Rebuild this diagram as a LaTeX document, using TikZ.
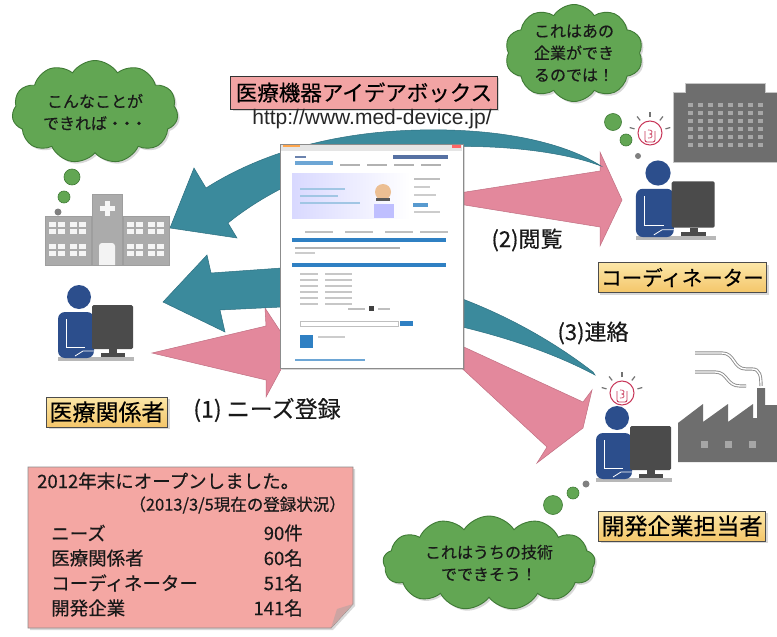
\documentclass[tikz,border=0pt]{standalone}
\usepackage{fontspec}
\setmainfont{Noto Sans CJK JP}[FakeBold=0.4]
\newfontfamily\urlfont{Liberation Sans}
\usetikzlibrary{shapes.symbols,shadows}

\definecolor{tealA}{HTML}{3B8A9C}
\definecolor{tealB}{HTML}{2D6F80}
\definecolor{pinkA}{HTML}{E3889C}
\definecolor{pinkB}{HTML}{C06F82}
\definecolor{cloudG}{HTML}{62A653}
\definecolor{cloudD}{HTML}{3F7A35}
\definecolor{navy}{HTML}{2C4E8C}
\definecolor{screen}{HTML}{4B4B4B}
\definecolor{labelTop}{HTML}{FCE7A8}
\definecolor{labelBot}{HTML}{F4C66A}
\definecolor{titleP}{HTML}{F2A4A4}
\definecolor{noteP}{HTML}{F4A7A3}
\definecolor{bldg}{HTML}{6E6E6E}
\definecolor{hosp}{HTML}{ABABAB}
\definecolor{bulbR}{HTML}{C8385A}
\definecolor{webB}{HTML}{2F80C3}

\tikzset{
  softshadow/.style={drop shadow={opacity=0.3,shadow xshift=2pt,shadow yshift=-2pt}},
  thought/.style={cloud, cloud puffs=#1, cloud puff arc=115, cloud ignores aspect,
    fill=cloudG, draw=cloudD, line width=0.9pt, align=center, inner sep=0pt,
    font=\fontsize{16}{22}\selectfont, text=black!90, softshadow},
  puff/.style={fill=cloudG, draw=cloudD, line width=0.6pt},
  tag/.style={draw=black!70, top color=labelTop, bottom color=labelBot, line width=0.8pt,
    inner xsep=3pt, minimum height=30pt, softshadow},
  tealarrow/.style={fill=tealA, draw=tealB, line width=0.5pt},
  pinkarrow/.style={fill=pinkA, draw=pinkB, line width=0.5pt},
  steplabel/.style={font=\fontsize{22}{22}\selectfont, text=black!90},
  worker/.pic={
    % desk
    \fill[black!28] (-21,60) rectangle (55,64);
    % body
    \fill[navy, rounded corners=7pt] (-21,61) -- (-21,15) -- (15,15) -- (15,61) -- cycle;
    \draw[white, line width=0.8pt] (-13,22) -- (-13,50) -- (6,50);
    \draw[white, line width=0.8pt] (-4,59) -- (4,54) -- (30,54);
    % head
    \fill[navy] (0,0) circle (12pt);
    % monitor
    \fill[screen, rounded corners=1.5pt] (13,8) rectangle (54,52);
    \fill[screen] (30,52) rectangle (38,58);
    \fill[screen] (22,56) rectangle (46,60);
  },
  bulb/.pic={
    \foreach \a in {-15,-52,-90,-128,-165}
      \draw[black!55, line width=1.2pt] (\a:16) -- (\a:21);
    \filldraw[fill=white, draw=bulbR, line width=1pt] (0,0) circle (12pt);
    \draw[bulbR, line width=0.9pt, rounded corners=2pt] (-5,-2) -- (-5,9) -- (5,9) -- (5,-2);
    \draw[bulbR, line width=0.7pt] (-2,-3) .. controls (3,-4) and (3,1) .. (0,1)
      .. controls (3,1) and (3,6) .. (-2,5);
  }
}

\begin{document}
\begin{tikzpicture}[x=1pt,y=-1pt]
\useasboundingbox (0,0) rectangle (777,637);
\fill[white] (0,0) rectangle (777,637);

% ---------- pink arrows (needs, browsing, contact) ----------
\fill[pinkarrow] (152,353) -- (266,326) -- (265,308) -- (292,349) -- (266,397) -- (266,380) -- cycle;
\fill[pinkarrow] (440,196) -- (600,171) -- (600,152) -- (622,200) -- (600,246) -- (600,227) -- (440,201) -- cycle;
\fill[pinkarrow] (440,336) -- (583,402) -- (592,390) -- (583,428) -- (537,463) -- (547,447) -- (440,348) -- cycle;

% ---------- teal arrows ----------
\fill[tealarrow] (601,166) .. controls (570,154) and (510,144) .. (440,147)
  .. controls (350,151) and (275,185) .. (228,223)
  -- (237,238) -- (170,228) -- (194,168) -- (206,188)
  .. controls (250,160) and (320,132) .. (420,130)
  .. controls (510,128) and (570,146) .. (601,166) -- cycle;
\fill[tealarrow] (163,302) -- (207,255) -- (211,273) -- (282,268)
  .. controls (380,262) and (500,300) .. (593,372)
  -- (595,375) .. controls (520,335) and (400,305) .. (282,307)
  -- (220,310) -- (225,332) -- cycle;

% ---------- web site screenshot ----------
\node[draw=black!45, fill=white, minimum width=183pt, minimum height=224pt, inner sep=0pt,
  line width=0.8pt, softshadow] (site) at (371.5,256) {};
\fill[black!10] (281,145) rectangle (462,151);
\fill[orange!70] (283,145) rectangle (300,147);
\fill[red!60] (452,145) rectangle (461,148);
\fill[navy!70] (295,156) rectangle (306,158);
\fill[webB!70] (295,161) rectangle (333,165);
\fill[navy!80] (393,155) rectangle (448,159);
\foreach \x in {340,367,394,421} \fill[black!30] (\x,164) rectangle (\x+20,166);
\shade[left color=blue!15, right color=white] (292,173) rectangle (410,218);
\fill[webB!45] (300,188) rectangle (345,190);
\fill[webB!45] (300,195) rectangle (338,197);
\fill[webB!45] (300,202) rectangle (360,204);
\fill[orange!40!brown!50] (383,192) circle (8pt);
\fill[black!65] (376,198) rectangle (390,201);
\fill[blue!25] (374,204) rectangle (394,218);
\fill[black!25] (414,178) rectangle (440,180);
\fill[black!20] (414,186) rectangle (430,188);
\fill[black!20] (414,194) rectangle (436,196);
\fill[webB!80] (413,203) rectangle (428,207);
\fill[black!20] (414,211) rectangle (440,213);
\foreach \x in {305,345,385,420} \fill[black!25] (\x,231) rectangle (\x+28,233);
\fill[webB] (292,238) rectangle (446,242);
\fill[black!30] (295,247) rectangle (400,249);
\fill[black!20] (295,252) rectangle (315,254);
\fill[webB] (292,263) rectangle (446,267);
\foreach \y in {273,279,285,291,297,303} {
  \fill[black!22] (300,\y) rectangle (318,\y+1.5);
  \fill[black!22] (325,\y) rectangle (352,\y+1.5);
}
\fill[black!25] (348,308) rectangle (365,310);
\fill[black!75] (369,306) rectangle (374,311);
\fill[black!25] (378,308) rectangle (390,310);
\draw[black!25] (300,321) rectangle (398,326);
\fill[webB] (400,321) rectangle (413,326);
\fill[webB] (300,335) rectangle (313,348);
\fill[black!20] (318,336) rectangle (345,338);
\fill[webB!70] (295,359) rectangle (365,361);

% ---------- title and address ----------
\node[draw=black!80, fill=titleP, line width=0.9pt, inner xsep=5pt, minimum height=33pt,
  font=\fontsize{21.5}{21.5}\selectfont, softshadow] (title) at (364,92.5) {医療機器アイデアボックス};
\node[font=\urlfont\fontsize{21}{21}\selectfont, text=black!85] (url) at (372,119) {http://www.med-device.jp/};

% ---------- hospital ----------
\filldraw[fill=hosp, draw=black!38] (45,216) rectangle (91,265);
\filldraw[fill=hosp, draw=black!38] (92,194) rectangle (122,265);
\filldraw[fill=hosp, draw=black!38] (123,216) rectangle (169,265);
\foreach \gx in {49,70,127,148}
  \foreach \gy in {222,244}
    \foreach \i in {0,1}
      \foreach \j in {0,1}
        \fill[white!88!hosp] (\gx+\i*9,\gy+\j*7) rectangle (\gx+\i*9+7,\gy+\j*7+5);
\fill[white!90!hosp] (104.5,201) rectangle (109.5,216);
\fill[white!90!hosp] (99.5,206) rectangle (114.5,211);
\fill[white!85!hosp] (99,265) {[rounded corners=3pt] -- (99,243) -- (115,243)} -- (115,265) -- cycle;

% ---------- office building ----------
\filldraw[fill=bldg, draw=black!22, line width=1pt] (673,162) -- (673,92) -- (685,92) -- (685,83)
  -- (765,83) -- (765,92) -- (777,92) -- (777,162) -- cycle;
\foreach \i in {0,...,7}
  \foreach \j in {0,...,5}
    \fill[black!35] (688+\i*10,103+\j*8) rectangle (693+\i*10,106.5+\j*8);

% ---------- factory ----------
\fill[bldg] (678,462) -- (678,423) -- (703,404) -- (703,422) -- (728,404) -- (728,422)
  -- (753,404) -- (753,418) -- (757,418) -- (757,388) -- (765,388) -- (765,405) -- (777,405)
  -- (777,462) -- cycle;
\foreach \x in {704,728,752} \fill[black!35] (\x-3.5,441) rectangle (\x+3.5,448);
\foreach \p in {
  {(695,353) -- (722,353) .. controls (735,353) and (733,369) .. (746,369) -- (752,369) .. controls (760,369) and (761,376) .. (761,386)},
  {(695,372) -- (715,372) .. controls (728,372) and (726,386) .. (740,386) -- (746,386)}} {
  \draw[black!45, line width=3.2pt] \p;
  \draw[white, line width=1.4pt] \p;
}

% ---------- people ----------
\pic at (79,297) {worker};
\pic[scale=1.05] at (658,173) {worker};
\pic at (617,418) {worker};
\pic at (650,133) {bulb};
\pic at (622,393) {bulb};

% ---------- thought clouds ----------
\node[thought=11, minimum width=166pt, minimum height=103pt] (c1) at (95,112)
  {こんなことが\\できれば・\kern-0.25em・\kern-0.25em・};
\fill[puff] (72,177) circle (8pt);
\fill[puff] (64,197) circle (6pt);
\fill[black!50] (58,212) circle (3.5pt);

\node[thought=10, minimum width=138pt, minimum height=97pt] (c2) at (574,53) {これはあの\\企業ができ\\るのでは！};
\fill[puff] (613,122) circle (8.5pt);
\fill[puff] (626,140) circle (6pt);
\fill[black!50] (638,156) circle (3pt);

\node[thought=13, minimum width=212pt, minimum height=94pt] (c3) at (489,563) {これはうちの技術\\でできそう！};
\fill[puff] (553,505) circle (9.5pt);
\fill[puff] (573,493) circle (6pt);
\fill[black!50] (586,484) circle (3.5pt);

% ---------- role labels ----------
\node[tag, font=\fontsize{23}{23}\selectfont] (med) at (107,412) {医療関係者};
\node[tag, font=\fontsize{20.5}{20.5}\selectfont] (coord) at (682.5,277.5) {コーディネーター};
\node[tag, font=\fontsize{23}{23}\selectfont] (dev) at (682,526) {開発企業担当者};

% ---------- step labels ----------
\node[steplabel, font=\fontsize{23}{23}\selectfont] (s1) at (267,410) {(1) ニーズ登録};
\node[steplabel] (s2) at (527,240) {(2)閲覧};
\node[steplabel] (s3) at (593,333) {(3)連絡};

% ---------- status note ----------
\filldraw[fill=noteP, draw=black!45, line width=0.8pt, softshadow]
  (28,467) -- (353,467) -- (353,604) -- (331,628) -- (28,628) -- cycle;
\fill[noteP!75!black!70] (353,604) -- (331,628) -- (337,609) -- cycle;
\begin{scope}[every node/.style={text=black!90, inner sep=0pt}]
\node[anchor=west, font=\fontsize{18.5}{20}\selectfont] (n1) at (37,481) {2012年末にオープンしました。};
\node[anchor=east, font=\fontsize{16.5}{18}\selectfont] (n2) at (346,505) {（2013/3/5現在の登録状況）};
\foreach \nm/\val/\y in {ニーズ/90件/533, 医療関係者/60名/558, コーディネーター/51名/583, 開発企業/141名/608} {
  \node[anchor=west, font=\fontsize{18.5}{20}\selectfont] at (51,\y) {\nm};
  \node[anchor=east, font=\fontsize{18.5}{20}\selectfont] at (303,\y) {\val};
}
\end{scope}
\end{tikzpicture}
\end{document}
